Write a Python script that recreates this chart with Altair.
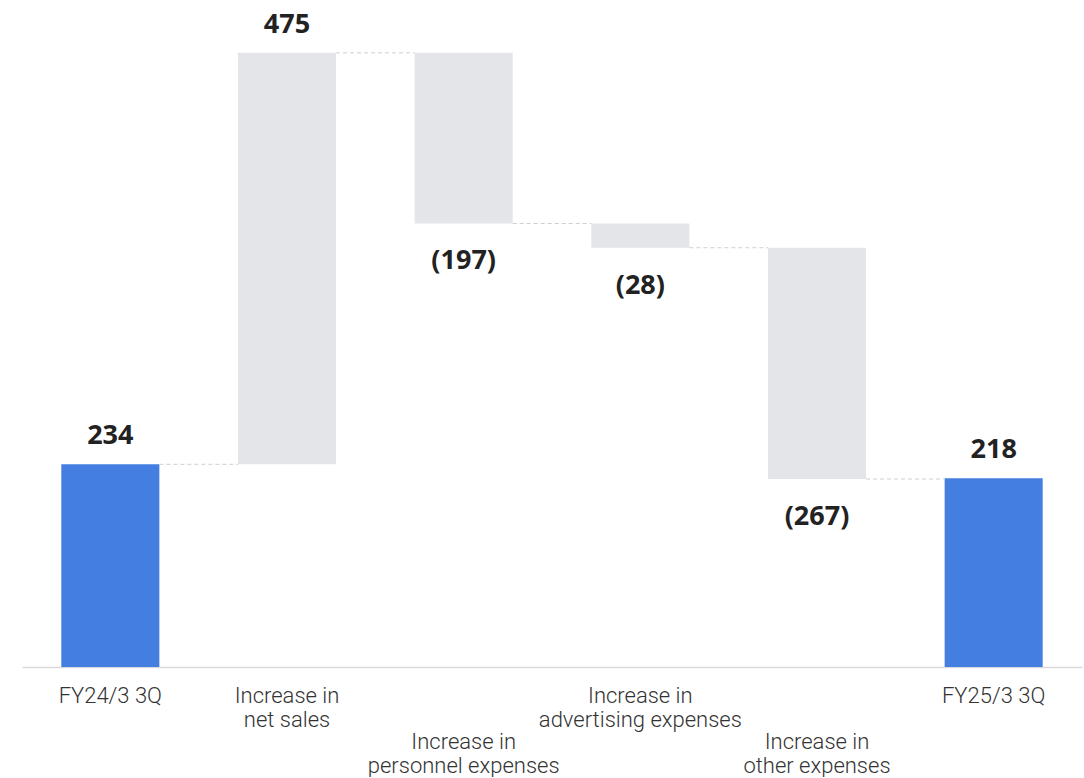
import altair as alt
import pandas as pd

# Operating profit bridge, FY24/3 3Q -> FY25/3 3Q
categories = [
    "FY24/3 3Q",
    "Increase in\nnet sales",
    "Increase in\npersonnel expenses",
    "Increase in\nadvertising expenses",
    "Increase in\nother expenses",
    "FY25/3 3Q",
]
values = [234, 475, -197, -28, -267, 218]
is_total = [True, False, False, False, False, True]

# running totals for the floating bars
rows = []
running = 0
for cat, val, tot in zip(categories, values, is_total):
    if tot:
        start, end = 0, val
    else:
        start, end = running, running + val
    running = end
    label = f"({abs(val)})" if val < 0 else f"{val}"
    rows.append(dict(category=cat, start=start, end=end, value=val,
                     kind="total" if tot else "delta", label=label))
df = pd.DataFrame(rows)

links = pd.DataFrame([
    dict(category=categories[i], nxt=categories[i + 1], level=rows[i]["end"])
    for i in range(len(categories) - 1)
])

# categories whose captions sit on a second, lower tier
lower_tier = [categories[2], categories[4]]

x_enc = alt.X("category:N", sort=categories,
              scale=alt.Scale(paddingInner=0.445, paddingOuter=0.2225),
              axis=alt.Axis(labels=False, ticks=False, title=None,
                            domainColor="#dadada", domainWidth=1.5))
y_scale = alt.Scale(domain=[0, 770], nice=False)

bars = alt.Chart(df).mark_bar().encode(
    x=x_enc,
    y=alt.Y("start:Q", scale=y_scale, axis=None),
    y2="end:Q",
    color=alt.Color("kind:N", scale=alt.Scale(domain=["total", "delta"],
                                              range=["#437ee0", "#e4e5e9"]),
                    legend=None),
)

connectors = alt.Chart(links).mark_rule(
    color="#cfcfcf", strokeWidth=1, strokeDash=[4, 3]
).encode(
    x=alt.X("category:N", sort=categories, bandPosition=1),
    x2=alt.X2("nxt:N", bandPosition=0),
    y=alt.Y("level:Q", scale=y_scale, axis=None),
)

value_font = dict(font="Noto Sans", fontSize=27, fontWeight="bold", color="#222222")

labels_up = alt.Chart(df).transform_filter("datum.value > 0").mark_text(
    baseline="middle", dy=-28, **value_font
).encode(
    x=alt.X("category:N", sort=categories),
    y=alt.Y("end:Q", scale=y_scale, axis=None),
    text="label:N",
)

labels_down = alt.Chart(df).transform_filter("datum.value < 0").mark_text(
    baseline="middle", dy=38, **value_font
).encode(
    x=alt.X("category:N", sort=categories),
    y=alt.Y("end:Q", scale=y_scale, axis=None),
    text="label:N",
)

captions = alt.Chart(df).transform_calculate(
    ly=f"indexof({lower_tier!r}, datum.category) >= 0 ? 749 : 703"
).mark_text(
    baseline="alphabetic", lineBreak="\n", lineHeight=24, fontSize=22,
    font="Roboto", fontWeight=300, color="#333333"
).encode(
    x=alt.X("category:N", sort=categories),
    y=alt.Y("ly:Q", scale=None, axis=None),
    text="category:N",
)

chart = alt.layer(bars, connectors, labels_up, labels_down, captions).resolve_scale(
    y="independent"
).properties(
    width=1060, height=667,
    padding={"left": 22, "top": 0, "right": 2, "bottom": 0},
).configure_view(stroke=None)

chart.save("out.html", embed_options={"renderer": "svg", "actions": False})
